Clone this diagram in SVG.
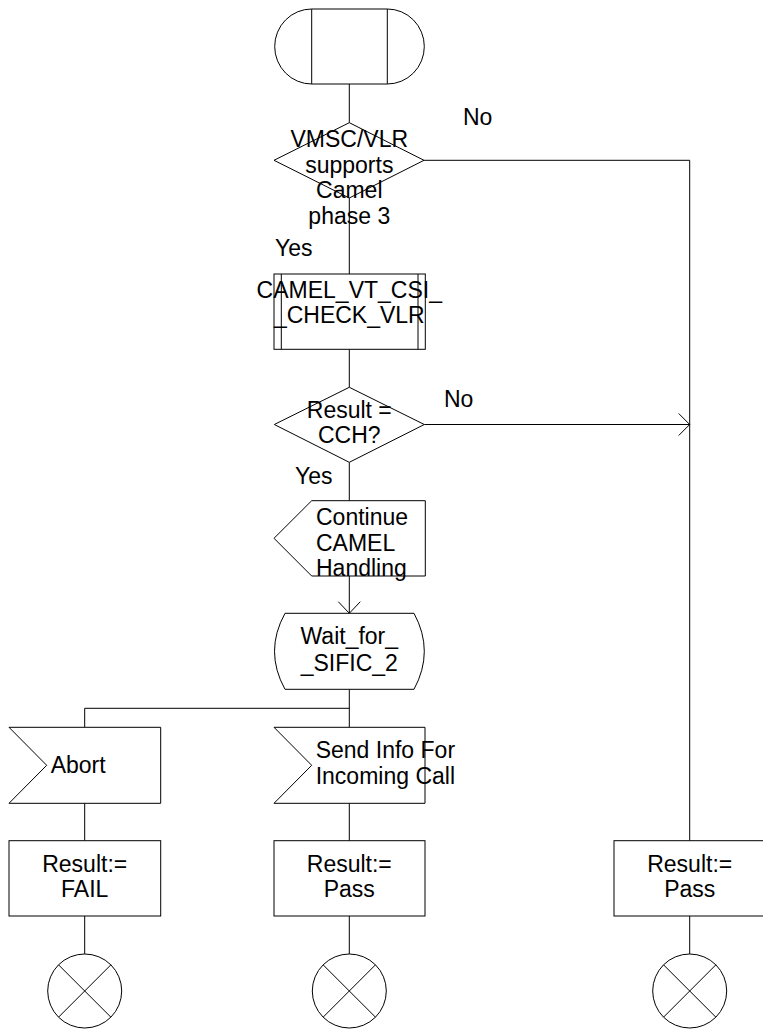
<svg xmlns="http://www.w3.org/2000/svg" width="763" height="1035" viewBox="0 0 763 1035">
<style>
.s{fill:#fff;stroke:#000;stroke-width:1}
.l{fill:none;stroke:#000;stroke-width:1}
text{font-family:"Liberation Sans",Arial,sans-serif;font-size:23px;fill:#000}
.c{text-anchor:middle}
</style>
<rect width="763" height="1035" fill="#fff"/>
<g id="connectors">
<path class="l" d="M349.3,84 V122.7"/>
<path class="l" d="M349.3,198 V274"/>
<path class="l" d="M424,160.3 H689.7 V840.7"/>
<path class="l" d="M349.3,349.3 V387.3"/>
<path class="l" d="M424.3,424.5 H689.7"/>
<path class="l" d="M678.7,413.5 L689.7,424.5 L678.7,435.5"/>
<path class="l" d="M349.3,462.3 V500.7"/>
<path class="l" d="M349.3,576 V613.3"/>
<path class="l" d="M338.3,601.7 L349.3,613.3 L360.3,601.7"/>
<path class="l" d="M349.3,689.3 V727.3"/>
<path class="l" d="M84.7,708.3 H349.3"/>
<path class="l" d="M84.7,708.3 V727.3"/>
<path class="l" d="M84.7,803.3 V840.7"/>
<path class="l" d="M349.3,803.3 V840.7"/>
<path class="l" d="M84.7,916 V954"/>
<path class="l" d="M349.3,916 V954"/>
<path class="l" d="M689.7,916 V954"/>
<text x="463" y="125">No</text>
<text x="275" y="256">Yes</text>
<text x="444" y="407">No</text>
<text x="295" y="484">Yes</text>
</g>
<g id="start">
<path class="s" d="M311.7,9 H387.3 A37,37.5 0 0 1 387.3,84 H311.7 A37,37.5 0 0 1 311.7,9 Z"/>
<path class="l" d="M311.7,9 V84 M387.3,9 V84"/>
</g>
<g id="decision1">
<path class="s" d="M349.3,122.7 L424,160.3 L349.3,198 L274,160.3 Z"/>
<text class="c" x="349.3" y="146.7">VMSC/VLR</text>
<text class="c" x="349.3" y="172.7">supports</text>
<text class="c" x="349.3" y="198">Camel</text>
<text class="c" x="349.3" y="224.3">phase 3</text>
</g>
<g id="procedure">
<rect class="s" x="274" y="274" width="151.3" height="75.3"/>
<path class="l" d="M281.3,274 V349.3 M418,274 V349.3"/>
<text class="c" x="349.3" y="298.3">CAMEL_VT_CSI_</text>
<text class="c" x="349.3" y="323.3">_CHECK_VLR</text>
</g>
<g id="decision2">
<path class="s" d="M349.3,387.3 L424.3,424.5 L349.3,462.3 L274.3,424.5 Z"/>
<text class="c" x="349.3" y="417.7">Result =</text>
<text class="c" x="349.3" y="443.3">CCH?</text>
</g>
<g id="continue">
<path class="s" d="M311.7,500.7 H425.3 V576 H311.7 L274,538.3 Z"/>
<text x="316" y="525">Continue</text>
<text x="316" y="550.7">CAMEL</text>
<text x="316" y="576">Handling</text>
</g>
<g id="wait">
<path class="s" d="M285,613.3 H414 Q434.6,651.3 414,689.3 H285 Q264,651.3 285,613.3 Z"/>
<text class="c" x="349.3" y="644.3">Wait_for_</text>
<text class="c" x="349.3" y="670.7">_SIFIC_2</text>
</g>
<g id="abort">
<path class="s" d="M9,727.3 H160.7 V803.3 H9 L46.7,765.3 Z"/>
<text x="50.7" y="772.7">Abort</text>
</g>
<g id="sendinfo">
<path class="s" d="M274,727.3 H425 V803.3 H274 L311.7,765.3 Z"/>
<text x="315.7" y="758.3">Send Info For</text>
<text x="315.7" y="784">Incoming Call</text>
</g>
<g id="resultFail">
<rect class="s" x="9" y="840.7" width="151.7" height="75.3"/>
<text class="c" x="84.7" y="871.7">Result:=</text>
<text class="c" x="84.7" y="896.7">FAIL</text>
</g>
<g id="resultPass1">
<rect class="s" x="274" y="840.7" width="151" height="75.3"/>
<text class="c" x="349.3" y="871.7">Result:=</text>
<text class="c" x="349.3" y="896.7">Pass</text>
</g>
<g id="resultPass2">
<rect class="s" x="614" y="840.7" width="151.3" height="75.3"/>
<text class="c" x="689.7" y="871.7">Result:=</text>
<text class="c" x="689.7" y="896.7">Pass</text>
</g>
<g id="stop1">
<circle class="s" cx="84.7" cy="991" r="37"/>
<path class="l" d="M58.5,964.8 L110.9,1017.2 M110.9,964.8 L58.5,1017.2"/>
</g>
<g id="stop2">
<circle class="s" cx="349.3" cy="991" r="37"/>
<path class="l" d="M323.1,964.8 L375.5,1017.2 M375.5,964.8 L323.1,1017.2"/>
</g>
<g id="stop3">
<circle class="s" cx="689.7" cy="991" r="37"/>
<path class="l" d="M663.5,964.8 L715.9,1017.2 M715.9,964.8 L663.5,1017.2"/>
</g>
</svg>
